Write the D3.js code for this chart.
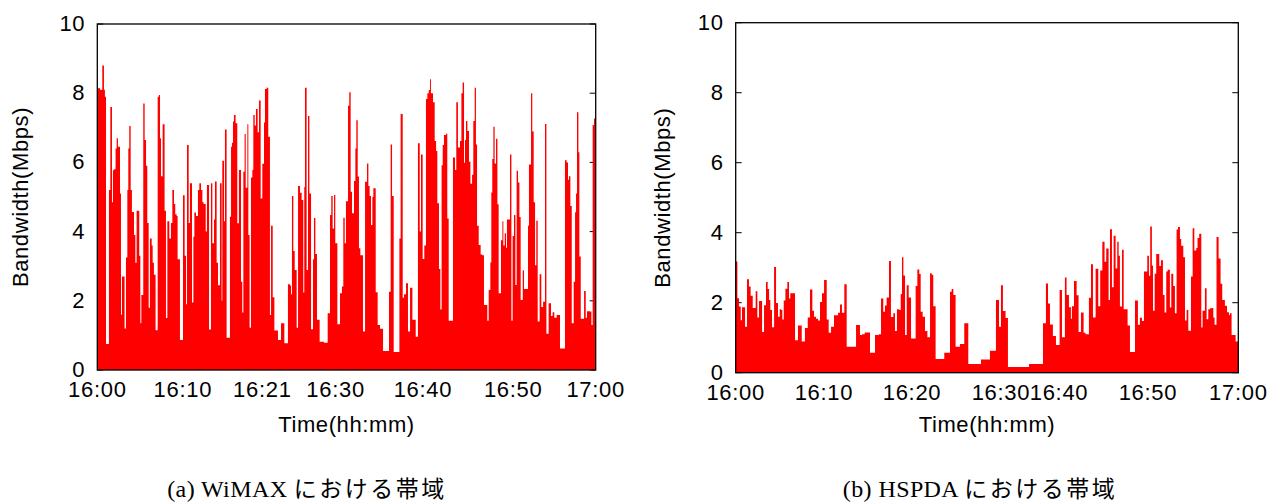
<!DOCTYPE html>
<html><head><meta charset="utf-8">
<script src="https://cdn.jsdelivr.net/npm/d3@7"></script>
<style>
html,body{margin:0;padding:0;background:#fff;}
svg{display:block;}
.tick{font-family:"Liberation Sans",Arial,sans-serif;font-size:22px;letter-spacing:0.7px;fill:#000;}
.atitle{font-family:"Liberation Sans",Arial,sans-serif;font-size:22px;letter-spacing:0.6px;fill:#000;}
.cap{fill:#000;}
</style></head>
<body>
<svg id="c" width="1285" height="504"></svg>
<script>
// ---- data: [seconds after 16:00, bandwidth Mbps] (step samples) ----
const wimaxSeries = [[0,8.14],[12,8.15],[19,8.1],[36,8.8],[48,8.1],[55,7.9],[63,0.75],[84,5.2],[94,7.6],[106,4.85],[113,5.77],[120,5.8],[132,6.4],[140,6.7],[149,6.45],[164,5.1],[171,1.6],[178,2.7],[197,1.2],[207,3.25],[217,5.2],[224,6.4],[231,7.05],[241,5.2],[250,4.57],[265,3.9],[275,3.1],[284,4.6],[303,3.3],[311,1.35],[318,2.17],[332,7.7],[342,6.65],[352,5.9],[361,4.25],[371,1.8],[380,3.8],[393,3.6],[400,3.1],[409,2.75],[421,1.15],[436,7.9],[445,7.95],[453,6.7],[460,5.6],[472,7.1],[486,4.6],[496,1.5],[506,4.3],[520,3.8],[532,4.25],[542,5.2],[554,4.8],[563,4.5],[573,4.45],[580,3.2],[597,0.87],[619,5.05],[631,3.3],[641,1.9],[648,6.5],[660,4.25],[669,5.4],[684,1.95],[694,3.85],[701,4.55],[713,4.45],[727,5.2],[737,5.4],[749,5.2],[759,4.85],[768,4.8],[783,4.0],[792,5.35],[807,1.17],
[821,5.4],[831,3.66],[843,4.35],[850,5.45],[862,3.1],[872,2.45],[886,5.4],[898,2.0],[903,6.05],[915,4.3],[922,6.95],[934,0.93],[958,4.43],[966,6.45],[973,6.57],[980,7.18],[987,7.37],[999,7.13],[1011,4.24],[1023,5.78],[1038,2.55],[1047,1.66],[1055,5.73],[1064,6.82],[1072,5.27],[1084,7.1],[1091,3.9],[1100,1.22],[1110,5.56],[1120,5.78],[1127,7.37],[1137,7.07],[1146,7.54],[1158,6.87],[1168,7.79],[1180,4.96],[1192,5.96],[1204,7.15],[1211,8.12],[1223,8.16],[1235,6.74],[1247,1.59],[1255,4.17],[1267,2.1],[1279,1.14],[1305,0.87],[1327,1.35],[1351,0.77],[1377,2.48],[1392,2.44],[1399,2.19],[1406,5.03],[1416,3.44],[1426,2.89],[1440,1.22],[1450,5.32],[1464,5.12],[1476,4.91],[1488,2.24],[1495,5.29],[1500,8.16],[1512,2.89],[1522,7.34],[1532,5.1],[1544,1.18],[1558,3.2],[1565,4.39],[1575,3.35],[1587,1.45],[1606,0.82],[1637,0.79],[1664,1.64],
[1681,4.48],[1690,5.03],[1700,4.09],[1710,5.06],[1719,3.66],[1734,1.32],[1753,2.22],[1767,2.41],[1777,4.4],[1787,3.66],[1796,4.88],[1811,7.64],[1820,8.03],[1830,5.15],[1840,4.53],[1854,5.46],[1864,6.4],[1871,7.22],[1881,5.59],[1890,3.52],[1900,3.32],[1919,1.11],[1934,5.44],[1948,5.97],[1958,5.32],[1967,5.03],[1977,4.19],[1987,5.01],[1994,5.25],[2011,2.25],[2025,1.3],[2042,1.19],[2064,0.55],[2107,2.26],[2119,6.52],[2129,5.03],[2141,0.52],[2182,3.8],[2191,7.4],[2206,2.09],[2215,2.19],[2230,2.51],[2244,1.11],[2259,2.38],[2276,1.45],[2300,0.96],[2316,6.55],[2329,4.0],[2338,6.23],[2350,3.21],[2362,3.6],[2374,7.83],[2384,8.0],[2394,8.09],[2403,8.4],[2410,8.0],[2425,7.74],[2437,6.62],[2447,6.33],[2456,4.82],[2468,2.92],[2478,1.75],[2487,5.92],[2495,6.5],[2504,6.79],[2519,6.83],[2528,4.38],[2538,1.42],
[2569,6.14],[2584,5.78],[2593,7.74],[2605,6.43],[2620,6.62],[2630,8.0],[2639,8.31],[2649,5.99],[2656,6.65],[2663,7.2],[2673,6.91],[2685,6.02],[2695,5.38],[2707,5.64],[2716,7.2],[2726,8.16],[2735,6.52],[2743,4.17],[2755,3.61],[2769,3.34],[2781,3.32],[2793,1.88],[2817,1.42],[2827,2.31],[2839,3.11],[2846,5.13],[2853,6.1],[2861,7.03],[2870,5.97],[2880,6.68],[2890,4.79],[2899,2.22],[2916,3.75],[2926,4.3],[2933,3.6],[2943,3.95],[2952,3.53],[2959,4.35],[2981,6.23],[2991,1.42],[3000,3.87],[3010,4.48],[3020,2.46],[3029,5.76],[3039,5.42],[3049,4.42],[3058,2.02],[3073,2.88],[3082,2.34],[3111,4.17],[3118,5.94],[3133,8.0],[3142,6.89],[3152,4.85],[3162,3.03],[3171,4.31],[3181,1.4],[3195,2.77],[3207,1.82],[3220,1.97],[3234,7.11],[3244,1.05],[3260,1.93],[3277,1.56],[3289,1.67],[3301,1.51],[3318,1.59],[3342,0.62],[3378,6.06],[3390,6.0],[3400,5.5],[3407,5.6],[3417,4.74],[3427,1.35],[3441,2.55],[3451,4.56],[3458,5.1],[3465,7.45],[3475,6.29],[3482,3.28],[3492,1.48],[3516,2.28],[3528,1.51],[3537,1.7],[3557,1.69],[3569,1.3],[3578,7.08],[3588,7.27]];

const hspdaSeries = [[0,3.18],[12,2.13],[24,1.89],[36,1.5],[45,1.87],[67,1.31],[81,2.67],[95,2.46],[107,2.2],[122,1.85],[143,2.33],[155,1.58],[167,2.05],[189,1.16],[203,1.93],[217,2.59],[229,2.39],[239,2.08],[248,1.79],[260,1.3],[275,3.02],[289,1.99],[303,1.6],[315,1.81],[325,1.79],[334,1.52],[344,2.06],[356,2.4],[370,2.59],[382,2.12],[391,2.27],[425,0.93],[446,1.35],[473,0.89],[496,1.28],[516,1.58],[532,2.38],[549,1.77],[561,1.6],[575,1.54],[590,1.49],[604,2.02],[618,2.27],[633,2.65],[652,1.52],[666,1.14],[683,1.31],[704,1.64],[733,1.71],[747,1.95],[761,1.71],[778,2.53],[795,0.74],[862,1.36],[890,1.08],[905,1.1],[924,1.15],[962,0.57],[998,1.08],[1026,1.1],[1041,2.12],[1057,1.74],[1069,1.92],[1081,2.15],[1098,3.19],[1112,1.59],[1129,1.7],[1141,1.19],[1155,1.81],[1172,1.79],[1182,2.25],[1191,3.3],[1201,2.78],[1213,1.08],[1225,2.5],[1239,2.15],[1256,0.98],[1289,2.48],[1301,2.95],[1315,2.82],[1325,1.74],[1339,1.6],[1356,1.19],[1373,1.01],[1392,2.84],[1404,2.8],[1415,1.9],[1432,0.39],[1494,0.57],[1535,2.31],[1547,2.39],[1559,2.22],[1575,0.74],[1606,0.82],[1637,1.41],[1666,0.25],[1757,0.38],[1821,0.63],[1864,2.08],[1886,1.31],[1900,2.5],[1914,1.76],[1933,1.56],[1950,0.16],[2101,0.25],[2201,1.41],[2222,2.55],[2237,1.98],[2251,1.38],[2272,1.05],[2294,0.79],[2320,2.36],[2337,1.01],[2358,2.72],[2370,2.22],[2387,1.87],[2401,1.54],[2408,1.9],[2423,2.62],[2442,2.21],[2456,1.16],[2473,1.72],[2492,1.14],[2506,1.1],[2530,2.14],[2545,3.1],[2559,1.58],[2578,2.97],[2597,1.9],[2611,2.92],[2626,3.74],[2642,3.17],[2654,3.55],[2671,2.08],[2681,4.1],[2695,2.44],[2707,3.91],[2721,2.98],[2733,3.74],[2743,3.34],[2752,1.89],[2767,3.51],[2779,1.81],[2807,1.35],[2824,0.59],[2860,2.06],[2881,1.37],[2895,1.57],[2910,1.48],[2924,2.89],[2948,3.34],[2960,2.77],[2969,4.18],[2981,3.06],[2989,1.77],[3001,2.83],[3012,3.39],[3034,3.05],[3046,3.21],[3060,2.22],[3072,1.72],[3084,2.89],[3094,2.94],[3110,1.86],[3120,2.83],[3134,2.48],[3146,1.7],[3158,4.09],[3168,4.16],[3182,3.82],[3191,3.63],[3206,3.3],[3218,1.49],[3230,1.79],[3242,1.2],[3261,2.75],[3273,4.13],[3285,3.49],[3299,3.56],[3308,3.85],[3320,3.97],[3335,1.29],[3344,1.77],[3361,2.41],[3373,1.53],[3385,1.81],[3397,1.84],[3411,1.85],[3421,1.58],[3430,1.37],[3444,3.88],[3459,3.26],[3473,2.54],[3485,2.08],[3504,1.91],[3519,1.73],[3533,1.65],[3540,1.7],[3552,1.08],[3581,0.89]];

const yTicks = [0, 2, 4, 6, 8, 10];
const wimaxTickSec = [0, 618, 1192, 1721, 2352, 3004, 3600];
const wimaxTickLabels = ["16:00", "16:10", "16:21", "16:30", "16:40", "16:50", "17:00"];
const hspdaTickSec = [0, 632, 1263, 1900, 2316, 2953, 3600];
const hspdaTickLabels = ["16:00", "16:10", "16:20", "16:30", "16:40", "16:50", "17:00"];
const durationSec = 3600;

const svg = d3.select("#c");

function panel(opt) {
  const x = d3.scaleLinear().domain([0, durationSec]).range([opt.left, opt.right]);
  const y = d3.scaleLinear().domain([0, 10]).range([opt.bottom, opt.top]);
  const g = svg.append("g");
  const pts = opt.data.concat([[durationSec, opt.data[opt.data.length - 1][1]]]);
  // ticks (inward, both sides), drawn under the fill
  const yt = g.append("g");
  yTicks.forEach(v => {
    yt.append("line").attr("x1", x(0)).attr("x2", x(0) + 6).attr("y1", y(v)).attr("y2", y(v)).attr("stroke", "#000");
    yt.append("line").attr("x1", x(durationSec)).attr("x2", x(durationSec) - 6).attr("y1", y(v)).attr("y2", y(v)).attr("stroke", "#000");
  });
  const area = d3.area().curve(d3.curveStepAfter)
    .x(d => x(d[0])).y0(y(0)).y1(d => y(d[1]));
  g.append("path").datum(pts).attr("d", area).attr("fill", "#ff0000").attr("stroke", "none");
  g.append("rect").attr("x", x(0)).attr("y", y(10)).attr("width", x(durationSec) - x(0)).attr("height", y(0) - y(10))
    .attr("fill", "none").attr("stroke", "#000").attr("stroke-width", 1.3);
  // y labels
  yTicks.forEach(v => {
    g.append("text").attr("class", "tick").attr("x", x(0) - 12).attr("y", y(v) + 7)
      .attr("text-anchor", "end").text(String(v));
  });
  // x labels
  opt.tickSec.forEach((s, i) => {
    g.append("text").attr("class", "tick").attr("x", x(s)).attr("y", y(0) + 27)
      .attr("text-anchor", "middle").text(opt.tickLabels[i]);
  });
  g.append("text").attr("class", "atitle").attr("x", (opt.left + opt.right) / 2).attr("y", 432)
    .attr("text-anchor", "middle").text("Time(hh:mm)");
  g.append("text").attr("class", "atitle")
    .attr("transform", `translate(${opt.ytitleX},${(opt.top + opt.bottom) / 2}) rotate(-90)`)
    .attr("text-anchor", "middle").text("Bandwidth(Mbps)");
  const cap = g.append("text").attr("class", "cap").attr("x", opt.capX).attr("y", 497).attr("text-anchor", "middle");
  cap.append("tspan").attr("font-family", '"Liberation Serif","DejaVu Serif",serif').attr("font-size", 24)
    .attr("letter-spacing", 0.4).text(opt.capLatin + " ");
  cap.append("tspan").attr("font-family", '"Noto Sans CJK JP",sans-serif').attr("font-size", 23)
    .attr("letter-spacing", 2.5).text("における帯域");
}

panel({data: wimaxSeries, left: 97.3, right: 595.7, top: 24, bottom: 370,
  tickSec: wimaxTickSec, tickLabels: wimaxTickLabels, ytitleX: 28, capX: 307, capLatin: "(a) WiMAX"});
panel({data: hspdaSeries, left: 735.7, right: 1238.3, top: 22.7, bottom: 372.7,
  tickSec: hspdaTickSec, tickLabels: hspdaTickLabels, ytitleX: 670, capX: 980, capLatin: "(b) HSPDA"});
</script>
</body></html>
